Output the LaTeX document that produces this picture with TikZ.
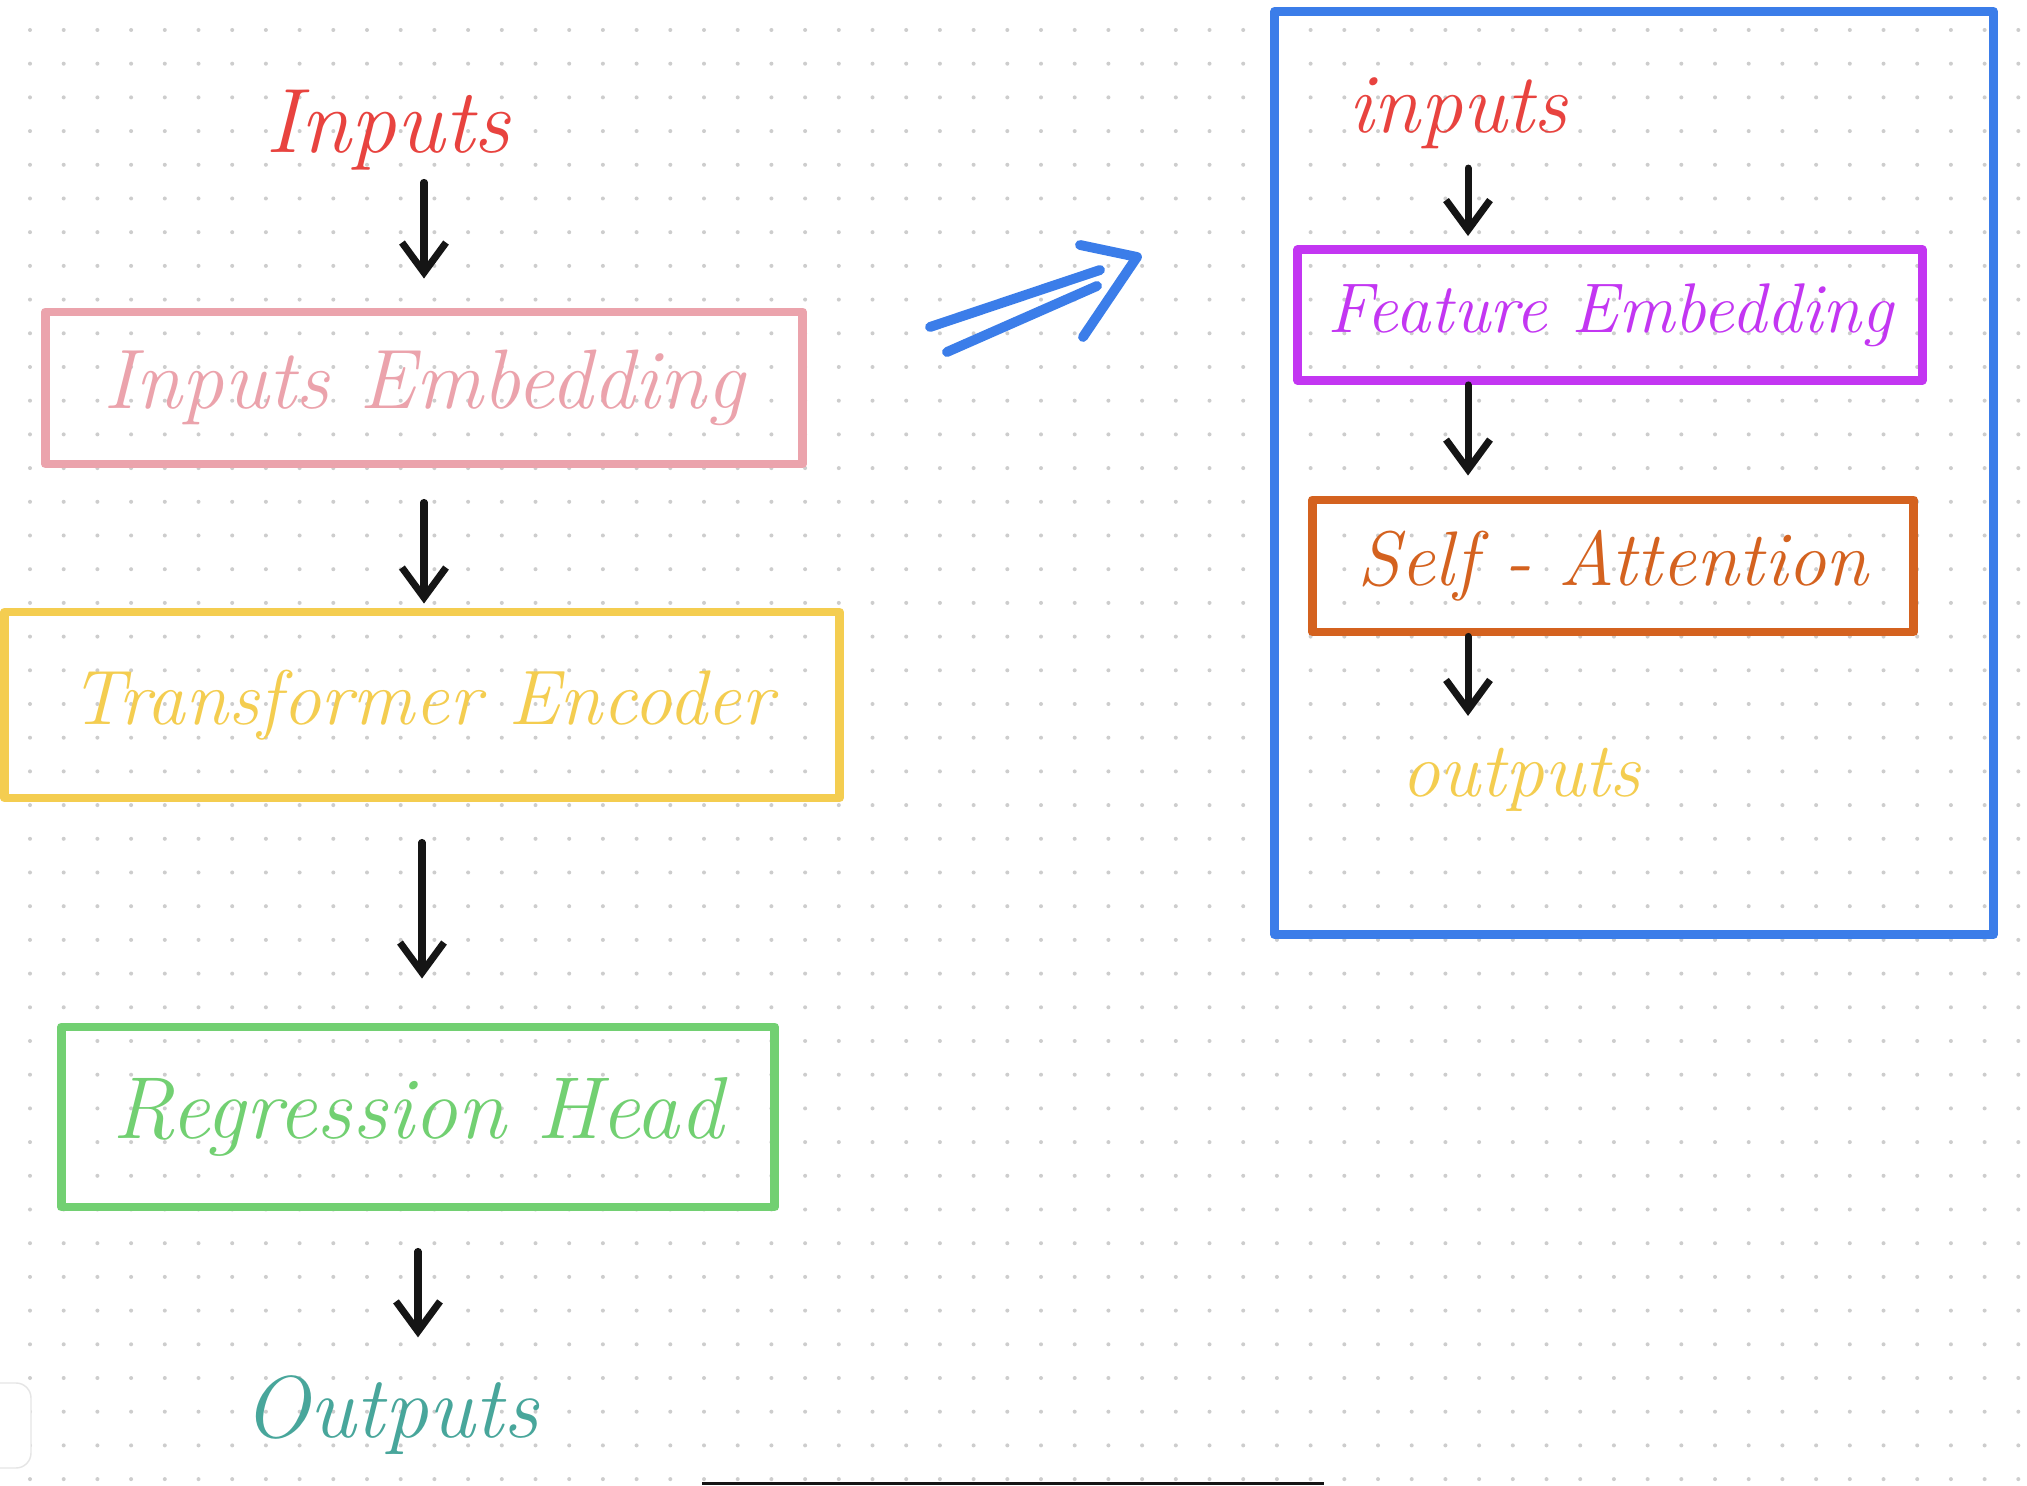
\documentclass[tikz,border=0pt]{standalone}
\usetikzlibrary{arrows.meta}

\definecolor{inred}{HTML}{E8433F}
\definecolor{embpink}{HTML}{EBA3AC}
\definecolor{encyellow}{HTML}{F4CD50}
\definecolor{reggreen}{HTML}{72D072}
\definecolor{outteal}{HTML}{48A69B}
\definecolor{framblue}{HTML}{3B7DE9}
\definecolor{featpurple}{HTML}{C336F2}
\definecolor{attorange}{HTML}{D4621F}
\definecolor{inkblack}{HTML}{151515}
\definecolor{dotgrey}{HTML}{CDCDCD}

\newcommand{\hand}[1]{\fontsize{#1}{#1}\selectfont\itshape}

\begin{document}
\begin{tikzpicture}
    [x=0.01cm, y=-0.01cm,
    box/.style={draw, rectangle, line width=2.5pt, line join=round, inner sep=0pt},
    word/.style={inner sep=0pt, anchor=base},
    flow/.style={-{Straight Barb[length=3mm, width=4.4mm]}, line width=2pt, draw=inkblack, line cap=round}]

    \fill[white] (0,0) rectangle (2027,1486);
    \useasboundingbox (0,0) rectangle (2027,1486);
    \foreach \i in {0,...,59}
        \foreach \j in {0,...,43}
            \fill[dotgrey] (30+33.7*\i, 30+33.7*\j) circle (0.02cm);

    \node[box, draw=framblue, minimum width=7.18cm, minimum height=9.23cm] (frame) at (1634,473) {};

    \node[word, text=inred, font={\hand{26}}] (inL) at (388,153) {Inputs};
    \node[box, draw=embpink, text=embpink, font={\hand{24}}, minimum width=7.57cm, minimum height=1.52cm] (embL) at (424,388) {Inputs Embedding};
    \node[box, draw=encyellow, text=encyellow, font={\hand{22}}, minimum width=8.34cm, minimum height=1.86cm] (encL) at (422,705) {Transformer Encoder};
    \node[box, draw=reggreen, text=reggreen, font={\hand{25}}, minimum width=7.13cm, minimum height=1.80cm] (regL) at (418,1117) {Regression Head};
    \node[word, text=outteal, font={\hand{25}}] (outL) at (391,1437) {Outputs};

    \node[word, text=inred, font={\hand{24}}] (inR) at (1458,133) {inputs};
    \node[box, draw=featpurple, text=featpurple, font={\hand{20}}, minimum width=6.24cm, minimum height=1.31cm] (featR) at (1610,315) {Feature Embedding};
    \node[box, draw=attorange, text=attorange, font={\hand{22}}, minimum width=6.01cm, minimum height=1.32cm] (attR) at (1613,566) {Self - Attention};
    \node[word, text=encyellow, font={\hand{22}}] (outR) at (1521,797) {outputs};

    \draw[flow, shorten <=0.11cm, shorten >=0.29cm] (inL.south -| embL.north) -- (embL.north);
    \draw[flow, shorten <=0.34cm, shorten >=0.04cm] (embL.south) -- (embL.south |- encL.north);
    \draw[flow, shorten <=0.40cm, shorten >=0.44cm] (encL.south) -- (encL.south |- regL.north);
    \draw[flow, shorten <=0.40cm, shorten >=0.37cm] (regL.south) -- (regL.south |- outL.north);

    \coordinate (spine) at ([xshift=1mm]inR.south);
    \draw[flow, shorten <=0.18cm, shorten >=0.09cm] (spine) -- (spine |- featR.north);
    \draw[flow, shorten >=0.20cm] (spine |- featR.south) -- (spine |- attR.north);
    \draw[flow, shorten >=0.32cm] (spine |- attR.south) -- (spine |- outR.north);

    \draw[framblue, line width=2.8pt, line cap=round, line join=round]
        (930,327) -- (1100,270)
        (947,352) -- (1097,286)
        (1080,245) -- (1137,257) -- (1083,337);

    \draw[black!10, fill=white, rounded corners=0.15cm] (-30,1383) rectangle (31,1468);
    \draw[inkblack, line width=0.03cm] (702,1483) -- (1324,1483);
\end{tikzpicture}
\end{document}
